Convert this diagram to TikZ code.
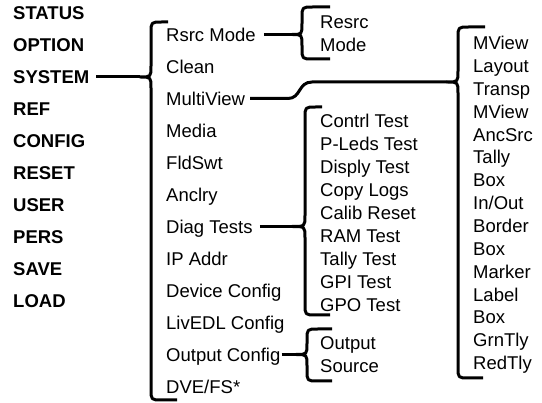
\documentclass[tikz,border=0pt]{standalone}
\usepackage{fontspec}
\setmainfont{Liberation Sans}
% #1 X, #2 top, #3 bottom, #4 cusp y, #5 tip x, #6 top hook end, #7 bottom hook end
\newcommand\drawbrace[7]{%
  \draw[brace] (#6,#2) -- ({#1+11},#2) .. controls (#1,#2) .. (#1,{#2+11})
    -- (#1,{#4-11}) .. controls (#1,#4) .. (#5,#4)
    .. controls (#1,#4) .. (#1,{#4+11})
    -- (#1,{#3-11}) .. controls (#1,#3) .. ({#1+11},#3) -- (#7,#3);}
\begin{document}
\begin{tikzpicture}[x=1pt,y=-1pt,
  lbl/.style={anchor=west,inner sep=0pt,text height=13.2pt,text depth=0pt,font=\fontsize{18.5}{18.5}\selectfont},
  mainitem/.style={lbl,font=\fontsize{18.5}{18.5}\selectfont\bfseries},
  brace/.style={line width=3pt,line join=round}]
\useasboundingbox (0,0) rectangle (542,403);
% main menu
\foreach \t/\n [count=\i from 0] in {STATUS/status,OPTION/option,SYSTEM/system,REF/ref,CONFIG/config,RESET/reset,USER/user,PERS/pers,SAVE/save,LOAD/load}
  \node[mainitem] (\n) at (13,{13+32*\i}) {\t};
% system submenu
\foreach \t/\n [count=\i from 0] in {Rsrc Mode/rsrc,Clean/clean,MultiView/multiview,Media/media,FldSwt/fldswt,Anclry/anclry,Diag Tests/diag,IP Addr/ipaddr,Device Config/devcfg,LivEDL Config/livedl,Output Config/outcfg,{DVE/FS*}/dvefs}
  \node[lbl] (\n) at (166,{34.5+32*\i}) {\t};
% Rsrc Mode submenu
\node[lbl] (resrc) at (320,21.5) {Resrc};
\node[lbl] (rmode) at (320,45) {Mode};
% MultiView submenu
\foreach \t/\n [count=\i from 0] in {MView/mva,Layout/mvlayout,Transp/mvtransp,MView/mvb,AncSrc/mvanc,Tally/mvtally,Box/mvboxa,{In/Out}/mvinout,Border/mvborder,Box/mvboxb,Marker/mvmarker,Label/mvlabel,Box/mvboxc,GrnTly/mvgrn,RedTly/mvred}
  \node[lbl] (\n) at (473,{43+22.86*\i}) {\t};
% Diag Tests submenu
\foreach \t/\n [count=\i from 0] in {Contrl Test/dga,P-Leds Test/dgb,Disply Test/dgc,Copy Logs/dgd,Calib Reset/dge,RAM Test/dgf,Tally Test/dgg,GPI Test/dgh,GPO Test/dgi}
  \node[lbl] (\n) at (320,{120.6+23*\i}) {\t};
% Output Config submenu
\node[lbl] (oout) at (320,343) {Output};
\node[lbl] (osrc) at (320,366) {Source};
% cusps
\coordinate (c-main) at (140,77);
\coordinate (c-rsrc) at (292,34.5);
\coordinate (c-mv) at (447,82);
\coordinate (c-diag) at (292,226.5);
\coordinate (c-out) at (296,354.5);
% braces
\drawbrace{151}{22}{400}{77}{140}{168}{177}
\drawbrace{302}{7}{59}{34.5}{292}{330}{330}
\drawbrace{458}{27}{378}{82}{447}{485}{483}
\drawbrace{305}{107}{315}{226.5}{292}{322}{330}
\drawbrace{307}{329}{381}{354.5}{296}{332}{332}
% connectors
\draw[brace] ([xshift=7pt]system.east) -- (c-main);
\draw[brace] ([xshift=8pt]rsrc.east) -- (c-rsrc);
\draw[brace] ([xshift=5pt]multiview.east) -- (288,98.5) .. controls (301,98.5) and (298,82) .. (312,82) -- (c-mv);
\draw[brace] ([xshift=7pt]diag.east) -- (c-diag);
\draw[brace] ([xshift=1pt]outcfg.east) -- (c-out);
\end{tikzpicture}
\end{document}
